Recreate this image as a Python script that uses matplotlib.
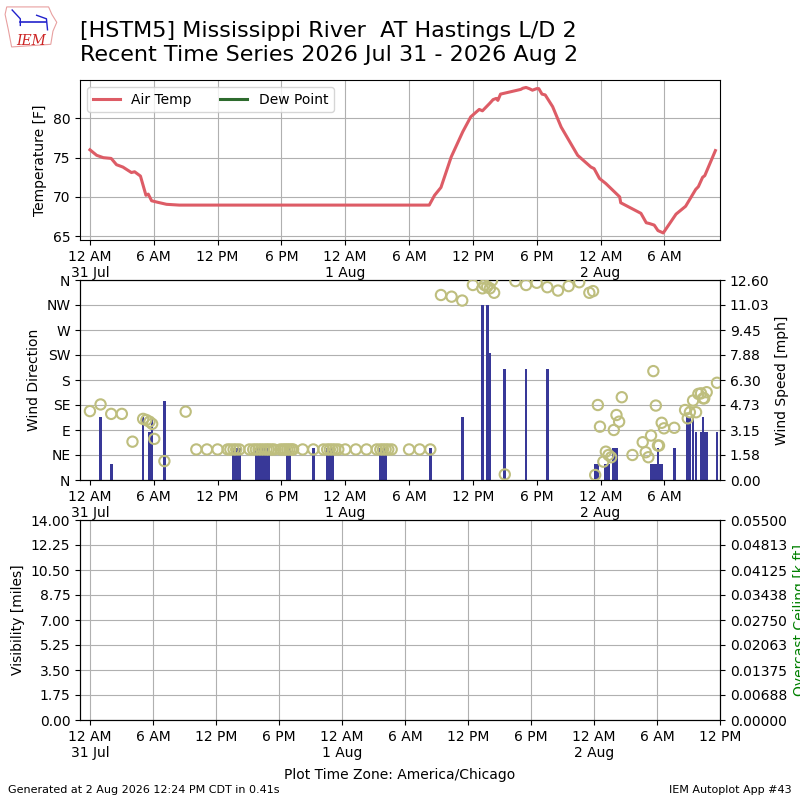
import numpy as np
import matplotlib
matplotlib.use('Agg')
import matplotlib.pyplot as plt
import matplotlib.dates as mdates
from matplotlib.ticker import FuncFormatter

# ############################
###### Data ##################
############################
BASE = np.datetime64('2026-07-31T00:00')

# hours since 31 Jul 00:00 local
temp_hours = [0.0, 0.63, 1.25, 2.0, 2.5, 3.1, 3.9, 4.2, 4.75, 5.26, 5.48, 5.8,
              6.4, 7.2, 8.4, 31.9, 32.4, 33.0, 33.96, 35.05, 35.8, 36.6, 36.9,
              37.56, 37.9, 38.2, 38.35, 38.6, 40.5, 40.7, 41.0, 41.3, 41.6,
              42.0, 42.2, 42.5, 42.8, 43.5, 44.3, 45.85, 47.1, 47.4, 47.9,
              48.5, 49.8, 49.9, 51.8, 52.3, 52.6, 53.05, 53.4, 53.9, 55.1,
              56.0, 56.95, 57.2, 57.6, 57.8, 58.8]
temp_f = [76.0, 75.3, 75.0, 74.9, 74.1, 73.8, 73.1, 73.2, 72.65, 70.2, 70.35,
          69.5, 69.3, 69.05, 68.95, 68.95, 70.2, 71.2, 75.1, 78.3, 80.2, 81.15,
          80.97, 81.9, 82.4, 82.55, 82.3, 83.1, 83.7, 83.85, 83.95, 83.8, 83.6,
          83.8, 83.8, 83.1, 83.0, 81.5, 78.9, 75.3, 73.8, 73.6, 72.35, 71.7,
          70.0, 69.25, 67.9, 66.7, 66.6, 66.4, 65.7, 65.4, 67.8, 68.8, 70.95,
          71.3, 72.5, 72.7, 75.9]
dewp_hours = []
dewp_f = []

wind_hours = [0.0, 1.0, 2.0, 3.0, 4.0, 5.0, 5.3, 5.6, 5.85, 6.05, 7.0, 9.0,
              10.0, 11.0, 12.0,
              12.95, 13.2, 13.5, 13.75, 14.05,
              15.0, 15.35, 15.6, 15.85, 16.1, 16.35, 16.6, 16.8, 17.05, 17.3,
              17.9, 18.15, 18.35, 18.55, 18.75, 18.95, 19.1,
              20.0, 21.0,
              21.95, 22.3, 22.55, 22.8, 23.05, 23.35,
              24.0, 25.0, 26.0,
              26.96, 27.3, 27.55, 27.8, 28.05, 28.37,
              30.0, 31.0, 32.0,
              33.0, 34.0, 35.0, 36.0, 36.9, 37.1, 37.35, 37.6, 37.8, 38.0,
              39.0, 40.0, 41.0, 42.0, 43.0, 44.0, 45.0, 46.0, 46.95, 47.3,
              47.5, 47.75, 47.95, 48.27, 48.5, 48.75, 49.0, 49.25, 49.5,
              49.75, 50.0, 51.0, 51.97, 52.25, 52.5, 52.75, 52.97, 53.2,
              53.4, 53.5, 53.75, 53.97, 54.94, 55.95, 56.2, 56.4, 56.7,
              56.98, 57.2, 57.45, 57.65, 57.75, 57.98, 58.95]
wind_drct = [124, 136, 119, 119, 69, 110, 108, 105, 101, 74, 34, 123,
             55, 55, 55,
             55, 55, 55, 55, 55,
             55, 55, 55, 55, 55, 55, 55, 55, 55, 55,
             55, 55, 55, 55, 55, 55, 55,
             55, 55,
             55, 55, 55, 55, 55, 55,
             55, 55, 55,
             55, 55, 55, 55, 55, 55,
             55, 55, 55,
             333, 330, 323, 351, 345, 351, 348, 345, 359, 337,
             10, 358, 351, 355, 347, 341, 349, 356, 337, 340,
             9, 135, 96, 33, 51, 45, 41, 90, 117,
             105, 149, 45, 68, 50, 41, 80, 196, 134,
             62, 62, 103, 93, 94, 126, 111, 122, 143,
             122, 155, 156, 147, 147, 158, 175]
wind_mph = [0, 4, 1, 0, 0, 4, 0, 3, 4, 0, 5, 0,
            0, 0, 0,
            0, 0, 2, 2, 2,
            0, 0, 2, 2, 2, 2, 2, 2, 0, 0,
            0, 0, 0, 2, 2, 0, 0,
            0, 2,
            0, 2, 2, 2, 0, 0,
            0, 0, 0,
            0, 2, 2, 2, 0, 0,
            0, 0, 2,
            0, 0, 4, 0, 11, 0, 11, 8, 0, 0,
            7, 0, 7, 0, 7, 0, 0, 0, 0, 0,
            1, 1, 0, 0, 1, 1, 0, 2, 2,
            0, 0, 0, 0, 0, 0, 1, 1, 1,
            2, 1, 1, 0, 2, 0, 4, 4, 4,
            3, 0, 3, 4, 3, 3, 3]

vis_hours = []
vis_miles = []

DIR_LABELS = ['N', 'NE', 'E', 'SE', 'S', 'SW', 'W', 'NW', 'N']

TEMP_COLOR = '#dd5c66'
DEWP_COLOR = '#2e6b2e'
BAR_COLOR = '#383898'
DIR_COLOR = '#bebe7e'


def to_time(hours):
    mins = np.round(np.asarray(hours, dtype=float) * 60).astype('timedelta64[m]')
    return BASE + mins


def fmt_time(x, pos=None):
    dt = mdates.num2date(x)
    hr = dt.hour % 12 or 12
    label = '%d %s' % (hr, 'AM' if dt.hour < 12 else 'PM')
    if dt.hour == 0:
        label += '\n%d %s' % (dt.day, dt.strftime('%b'))
    return label


def setup_time_axis(ax, start, end):
    ax.set_xlim(to_time(start), to_time(end))
    ax.xaxis.set_major_locator(mdates.HourLocator(byhour=[0, 6, 12, 18]))
    ax.xaxis.set_major_formatter(FuncFormatter(fmt_time))


def fixed_fmt(ndig):
    return FuncFormatter(lambda v, p: '%.*f' % (ndig, v + 1e-12))


# ############################
###### Figure ################
############################
fig = plt.figure(figsize=(8, 8), dpi=100)

# logo
lax = fig.add_axes([0.005, 0.938, 0.068, 0.055])
lax.set_xlim(0, 1)
lax.set_ylim(0, 1)
lax.axis('off')
lax.add_patch(plt.Polygon([(0.05, 0.97), (0.82, 0.97), (0.88, 0.8), (0.97, 0.62),
                           (0.9, 0.42), (0.86, 0.12), (0.14, 0.06), (0.08, 0.45),
                           (0.02, 0.8)], closed=True, fill=False,
                          edgecolor='#e8a0a0', lw=0.8))
lax.plot([0.3, 0.78], [0.62, 0.62], color='#2222cc', lw=1.2)
lax.plot([0.15, 0.3, 0.3], [0.9, 0.7, 0.55], color='#2222cc', lw=1)
lax.plot([0.6, 0.78, 0.8], [0.78, 0.7, 0.45], color='#2222cc', lw=1)
lax.text(0.5, 0.2, 'IEM', color='#cc2222', fontsize=10, style='italic',
         family='DejaVu Serif', ha='center', va='center')

fig.text(0.1, 0.961, '[HSTM5] Mississippi River  AT Hastings L/D 2',
         fontsize=16, va='center')
fig.text(0.1, 0.931, 'Recent Time Series 2026 Jul 31 - 2026 Aug 2',
         fontsize=16, va='center')

# temperature panel
ax_t = fig.add_axes([0.1, 0.7, 0.8, 0.2])
ax_t.plot(to_time(temp_hours), temp_f, color=TEMP_COLOR, lw=2.2, label='Air Temp')
ax_t.plot(to_time(dewp_hours), dewp_f, color=DEWP_COLOR, lw=2.2, label='Dew Point')
setup_time_axis(ax_t, -0.94, 59.24)
ax_t.set_ylim(64.5, 84.9)
ax_t.set_yticks([65, 70, 75, 80])
ax_t.set_ylabel('Temperature [F]')
ax_t.grid(True)
ax_t.legend(loc='upper left', ncol=2)

# wind panel
ax_w = fig.add_axes([0.1, 0.4, 0.8, 0.25])
ax_w2 = ax_w.twinx()
ax_w2.bar(to_time(wind_hours), wind_mph, width=np.timedelta64(15, 'm'),
          color=BAR_COLOR, zorder=2)
ax_w.scatter(to_time(wind_hours), wind_drct, s=55, facecolors='none',
             edgecolors=DIR_COLOR, linewidths=1.5, zorder=3)
setup_time_axis(ax_w, -0.94, 59.24)
ax_w.set_ylim(0, 360)
ax_w.set_yticks(np.arange(0, 361, 45))
ax_w.set_yticklabels(DIR_LABELS)
ax_w.set_ylabel('Wind Direction')
ax_w2.set_ylim(0, 12.6)
ax_w2.set_yticks(np.linspace(0, 12.6, 9))
ax_w2.yaxis.set_major_formatter(fixed_fmt(2))
ax_w2.set_ylabel('Wind Speed [mph]')
ax_w2.set_axisbelow(True)
ax_w2.grid(True)
ax_w.set_zorder(ax_w2.get_zorder() + 1)
ax_w.patch.set_visible(False)
ax_w2.patch.set_visible(True)
ax_w2.patch.set_facecolor('white')

# visibility panel
ax_v = fig.add_axes([0.1, 0.1, 0.8, 0.25])
ax_v.plot(to_time(vis_hours), vis_miles, color='k')
setup_time_axis(ax_v, -0.95, 60.0)
ax_v.set_ylim(0, 14)
ax_v.set_yticks(np.linspace(0, 14, 9))
ax_v.yaxis.set_major_formatter(fixed_fmt(2))
ax_v.set_ylabel('Visibility [miles]')
ax_v.grid(True)
ax_v2 = ax_v.twinx()
ax_v2.set_ylim(0, 0.055)
ax_v2.set_yticks(np.linspace(0, 0.055, 9))
ax_v2.yaxis.set_major_formatter(fixed_fmt(5))
ax_v2.set_ylabel('Overcast Ceiling [k ft]', color='g')

fig.text(0.5, 0.031, 'Plot Time Zone: America/Chicago', ha='center', va='center',
         fontsize=10)
fig.text(0.01, 0.013, 'Generated at 2 Aug 2026 12:24 PM CDT in 0.41s',
         fontsize=8, va='center')
fig.text(0.99, 0.013, 'IEM Autoplot App #43', fontsize=8, ha='right', va='center')

fig.savefig('out.png', dpi=100)
